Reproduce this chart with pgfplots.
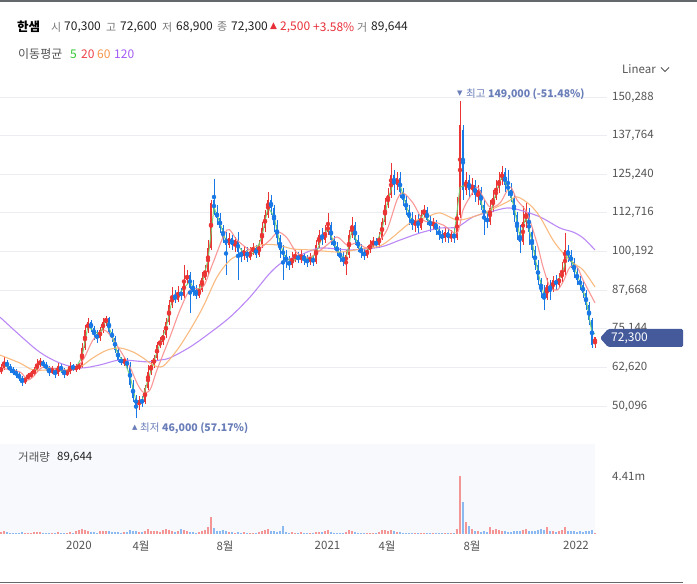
\documentclass[border=0pt]{standalone}
\usepackage{pgfplots}
\pgfplotsset{compat=1.18}
\usepackage{pgfplotstable}
\usepackage{fontspec}
\setmainfont{Noto Sans CJK KR}
\newfontfamily\sym{DejaVu Sans}
\definecolor{gridc}{RGB}{236,237,240}
\definecolor{ticktext}{RGB}{85,85,85}
\definecolor{upc}{RGB}{235,52,52}
\definecolor{dnc}{RGB}{24,120,230}
\definecolor{vup}{RGB}{245,150,150}
\definecolor{vdn}{RGB}{140,185,240}
\definecolor{ma5c}{RGB}{110,210,110}
\definecolor{ma20c}{RGB}{250,140,140}
\definecolor{ma60c}{RGB}{250,180,115}
\definecolor{ma120c}{RGB}{180,125,245}
\definecolor{bandc}{RGB}{248,249,253}
\definecolor{annc}{RGB}{105,125,185}
\definecolor{tagc}{RGB}{68,90,155}
\definecolor{linec}{RGB}{100,103,108}
\definecolor{lblgray}{RGB}{120,120,120}
\definecolor{numdark}{RGB}{34,34,34}
\definecolor{hdrred}{RGB}{232,48,58}
\definecolor{leg5}{RGB}{50,200,50}
\definecolor{leg20}{RGB}{240,66,74}
\definecolor{leg60}{RGB}{245,150,74}
\definecolor{leg120}{RGB}{164,92,245}

\pgfplotstableread{
x o h l c v
1 61.1 63.7 60.4 62.4 150
4 62.4 65.9 61.8 64.4 200
7 64.4 65.0 62.1 63.0 120
10 63.0 63.7 60.8 61.8 100
13 61.8 62.7 60.1 61.1 90
16 61.1 62.1 59.2 60.4 110
19 60.4 61.1 58.2 59.2 90
22 59.2 59.8 56.6 57.9 150
25 57.9 59.5 57.2 59.2 100
28 59.2 60.8 58.5 59.8 80
31 59.8 61.4 59.2 60.4 90
34 60.4 62.7 59.8 61.8 120
37 61.8 65.3 61.1 63.7 180
40 63.7 65.7 62.7 64.4 150
43 64.4 65.0 62.4 63.4 100
46 63.4 64.4 61.4 62.4 80
49 62.4 63.0 59.8 61.1 90
52 61.1 63.0 60.4 61.8 70
55 61.8 62.4 59.2 60.4 80
58 60.4 64.0 59.8 63.0 120
61 63.0 63.7 60.8 61.8 80
64 61.8 62.4 59.2 60.4 90
67 60.4 62.1 59.8 61.1 70
70 61.1 64.4 60.4 63.0 130
73 63.0 63.7 61.4 62.4 90
76 62.1 63.7 61.1 62.7 200
79 62.7 64.0 61.8 63.0 300
82 63.0 70.5 62.4 68.9 380
85 68.9 76.3 68.2 74.7 300
88 74.7 78.6 73.8 77.3 200
91 77.3 78.0 74.1 75.4 150
94 75.4 76.0 71.5 73.1 120
97 73.1 74.7 70.5 72.1 100
100 72.1 75.7 71.2 74.7 230
103 74.7 78.6 73.8 77.3 200
106 77.3 79.3 76.0 78.6 250
109 78.6 78.9 73.1 74.1 230
112 74.1 75.1 70.8 72.1 150
115 72.1 72.8 67.3 68.2 130
118 68.2 68.9 64.4 65.0 120
121 65.0 66.0 63.4 64.4 100
124 64.4 66.0 63.0 65.0 120
127 65.0 65.7 62.1 63.0 150
130 63.0 64.4 55.9 56.9 300
133 56.9 58.5 51.4 52.7 250
136 52.7 53.6 46.2 50.4 200
139 50.4 53.3 48.8 52.0 150
142 52.0 53.3 49.7 51.4 120
145 51.4 56.9 50.7 55.9 200
148 55.9 63.4 55.3 61.1 380
151 61.1 65.0 60.1 63.4 250
154 63.4 66.6 62.4 65.7 200
157 65.7 70.8 65.0 69.9 250
160 69.9 72.4 68.9 70.8 180
163 70.8 74.7 69.9 73.1 300
166 73.1 78.6 72.1 77.3 380
169 77.3 84.5 76.3 82.8 300
172 82.8 88.7 81.9 85.8 250
175 85.8 87.7 83.5 84.5 150
178 84.5 89.0 83.8 87.1 200
181 87.1 88.4 84.5 85.8 400
184 85.8 95.8 85.1 91.0 300
187 91.0 94.2 89.6 92.6 200
190 92.6 93.5 80.2 88.4 180
193 88.4 91.0 85.8 87.1 120
196 87.1 89.3 84.8 85.8 100
199 85.8 89.6 85.1 87.7 120
202 87.7 93.5 87.1 91.6 250
205 91.6 95.8 91.0 93.5 300
208 93.5 103.9 92.6 101.3 500
211 101.3 116.9 100.7 115.9 1300
214 116.9 123.7 112.0 113.0 450
217 113.0 115.3 108.8 111.0 250
220 111.0 112.7 106.2 107.8 200
223 107.8 108.8 102.9 104.6 300
226 104.6 106.5 92.6 102.3 200
229 102.3 106.2 101.3 104.6 150
232 104.6 105.5 100.7 102.3 120
235 102.3 104.9 100.0 103.9 100
238 103.9 106.5 91.0 100.0 150
241 100.0 101.3 96.8 98.7 100
244 98.7 102.0 97.4 100.7 120
247 100.7 101.6 96.8 98.1 90
250 98.1 101.6 97.4 100.0 80
253 100.0 102.9 99.0 101.3 100
256 101.3 102.3 98.1 99.0 90
259 99.0 103.9 98.4 102.3 150
262 102.3 109.8 101.3 107.8 250
265 107.8 113.6 106.5 112.0 300
268 112.0 119.5 111.0 116.9 380
271 116.9 118.5 112.0 114.3 250
274 114.3 115.3 106.5 108.8 200
277 108.8 110.4 102.3 104.6 150
280 104.6 105.5 98.1 100.7 200
283 100.7 102.3 91.0 99.0 600
286 99.0 100.7 94.8 96.8 150
289 96.8 98.7 94.2 95.8 100
292 95.8 100.0 94.8 98.1 120
295 98.1 100.7 96.8 98.7 100
298 98.7 100.0 96.5 97.4 80
301 97.4 100.7 96.5 99.0 130
304 99.0 99.7 95.8 97.4 90
307 97.4 99.0 95.2 96.8 80
310 96.8 99.7 95.8 98.1 90
313 98.1 99.0 95.5 96.8 80
316 96.8 103.9 96.1 102.3 150
319 102.3 107.2 101.3 105.5 180
322 105.5 107.8 102.3 103.9 120
325 103.9 108.8 102.9 106.5 200
328 106.5 112.7 105.5 108.8 280
331 108.8 109.8 102.3 103.9 150
334 103.9 105.2 100.7 102.0 100
337 102.0 103.3 98.7 100.0 90
340 100.0 101.3 96.8 98.1 80
343 98.1 100.0 95.5 96.8 90
346 96.8 100.7 92.6 99.0 150
349 99.0 107.2 98.1 105.5 300
352 105.5 111.4 104.6 108.8 250
355 108.8 109.8 102.3 103.9 150
358 103.9 105.5 100.0 101.3 100
361 101.3 102.6 98.1 100.0 80
364 100.0 101.3 97.4 98.7 70
367 98.7 102.0 98.1 100.7 90
370 100.7 103.9 99.7 102.3 100
373 102.3 104.9 101.3 103.3 80
376 103.3 104.6 101.3 102.3 70
379 102.3 106.5 101.3 104.6 150
382 104.6 111.0 103.9 109.8 300
385 109.8 117.5 108.8 115.3 300
388 115.3 120.8 114.3 118.5 250
391 118.5 128.9 117.5 125.0 300
394 125.0 126.6 118.5 121.7 200
397 121.7 126.0 120.1 124.0 150
400 124.0 126.0 117.5 119.5 120
403 119.5 120.8 114.9 116.9 100
406 116.9 118.2 112.0 113.6 90
409 113.6 115.3 108.8 111.0 80
412 111.0 113.0 107.2 108.8 90
415 108.8 112.0 106.5 110.4 70
418 110.4 112.4 106.2 107.8 80
421 107.8 113.6 107.2 112.0 90
424 112.0 115.3 111.0 113.6 80
427 113.6 114.6 108.8 110.4 70
430 110.4 112.0 106.5 108.5 60
433 108.5 111.0 107.2 109.8 60
436 109.8 110.4 105.5 107.2 70
439 107.2 108.5 103.9 105.5 60
442 105.5 107.2 102.9 104.6 60
445 104.6 107.8 103.3 106.5 70
448 106.5 107.8 102.9 104.6 60
451 104.6 107.2 103.3 105.5 70
454 105.5 107.8 102.9 104.6 80
457 104.6 117.9 103.9 112.0 400
460 112.0 149.0 111.0 141.2 4410
463 139.6 141.2 116.9 120.1 2400
466 120.1 126.0 118.5 123.4 900
469 123.4 125.0 117.5 120.1 600
472 120.1 124.0 118.5 121.7 400
475 121.7 123.4 116.2 118.5 250
478 118.5 121.7 115.3 120.1 200
481 120.1 121.1 113.6 115.3 150
484 115.3 116.9 105.5 111.0 200
487 111.0 113.0 107.8 109.8 150
490 109.8 116.9 108.8 114.3 550
493 114.3 120.1 113.0 117.5 300
496 117.5 123.4 116.9 120.8 400
499 120.8 126.0 119.2 123.4 300
502 123.4 127.9 121.7 126.0 250
505 126.0 127.3 119.5 121.7 200
508 121.7 126.6 118.2 120.1 180
511 120.1 122.4 116.2 117.5 150
514 117.5 118.5 109.8 112.0 200
517 112.0 113.0 103.9 106.5 250
520 106.5 108.8 99.7 103.3 250
523 103.3 114.9 102.3 109.8 300
526 109.8 115.9 107.8 113.0 380
529 113.0 114.3 102.3 106.5 250
532 106.5 107.8 98.1 100.7 200
535 100.7 102.0 94.2 95.8 250
538 95.8 97.4 89.3 91.0 300
541 91.0 91.6 85.1 87.1 350
544 87.1 89.3 81.2 85.1 300
547 85.1 91.6 84.5 89.3 550
550 89.3 91.0 84.5 87.7 200
553 87.7 92.2 87.1 91.0 250
556 91.0 92.6 87.7 89.3 150
559 89.3 93.2 88.4 91.6 200
562 91.6 96.8 90.3 93.5 300
565 93.5 106.2 92.6 100.7 550
568 100.7 102.3 96.8 99.0 250
571 99.0 100.7 94.8 96.8 200
574 96.8 98.1 91.6 93.5 200
577 93.5 94.8 89.3 91.0 150
580 91.0 92.2 87.7 89.3 200
583 89.3 90.6 85.1 86.7 150
586 86.7 87.7 81.2 82.8 200
589 82.8 83.8 76.3 78.0 250
592 78.0 78.6 68.9 69.8 300
595 70.3 72.6 68.9 72.3 90
}\candles

\begin{document}
\begin{tikzpicture}
\useasboundingbox (0pt,0pt) rectangle (697pt,584pt);
\fill[white] (0pt,0pt) rectangle (697pt,584pt);
% frame lines
\draw[linec, line width=1.6pt] (0pt,583.2pt) -- (697pt,583.2pt);
\draw[linec, line width=1.5pt] (0pt,1.5pt) -- (683pt,1.5pt);
% volume band
\fill[bandc] (0pt,50pt) rectangle (595pt,140pt);

% ---------- price axis ----------
\begin{axis}[
  at={(0pt,144pt)}, anchor=south west, scale only axis,
  width=607pt, height=355pt,
  xmin=0, xmax=607, ymin=39.06, ymax=154.18,
  axis line style={draw=none}, tick style={draw=none},
  xtick=\empty,
  ytick={50.096,62.62,75.144,87.668,100.192,112.716,125.24,137.764,150.288},
  yticklabels={{50,096},{62,620},{75,144},{87,668},{100,192},{112,716},{125,240},{137,764},{150,288}},
  yticklabel pos=right,
  yticklabel style={anchor=west, inner sep=0pt, xshift=5pt, font=\fontsize{11.5}{13}\selectfont, text=ticktext},
  ymajorgrids, grid style={gridc, line width=0.8pt},
  clip=true,
]
% wicks up
\addplot[only marks, mark=none, color=upc,
  y filter/.expression={\thisrow{c}>=\thisrow{o} ? y : nan},
  error bars/.cd, y dir=both, y explicit, error mark=none,
  error bar style={line width=0.8pt}]
  table[x=x, y expr={(\thisrow{h}+\thisrow{l})/2}, y error expr={(\thisrow{h}-\thisrow{l})/2}] {\candles};
% bodies up
\addplot[only marks, mark=none, color=upc,
  y filter/.expression={\thisrow{c}>=\thisrow{o} ? y : nan},
  error bars/.cd, y dir=both, y explicit, error mark=none,
  error bar style={line width=1.8pt}]
  table[x=x, y expr={(\thisrow{o}+\thisrow{c})/2}, y error expr={max(abs(\thisrow{o}-\thisrow{c})/2,0.25)}] {\candles};
% wicks down
\addplot[only marks, mark=none, color=dnc,
  y filter/.expression={\thisrow{c}<\thisrow{o} ? y : nan},
  error bars/.cd, y dir=both, y explicit, error mark=none,
  error bar style={line width=0.8pt}]
  table[x=x, y expr={(\thisrow{h}+\thisrow{l})/2}, y error expr={(\thisrow{h}-\thisrow{l})/2}] {\candles};
% bodies down
\addplot[only marks, mark=none, color=dnc,
  y filter/.expression={\thisrow{c}<\thisrow{o} ? y : nan},
  error bars/.cd, y dir=both, y explicit, error mark=none,
  error bar style={line width=1.8pt}]
  table[x=x, y expr={(\thisrow{o}+\thisrow{c})/2}, y error expr={max(abs(\thisrow{o}-\thisrow{c})/2,0.25)}] {\candles};

% MA120
\addplot[ma120c, line width=1.1pt, smooth, opacity=0.9] coordinates {
(0,78.9)(37,68.2)(60,64.0)(80,62.4)(100,63.4)(120,65.0)(147,64.4)(160,65.0)(170,65.7)(190,69.2)(210,73.8)(230,78.9)(250,85.4)(270,93.2)(283,96.8)(300,99.0)(320,101.3)(350,100.7)(380,101.6)(400,103.9)(420,106.2)(440,107.8)(457,108.1)(473,111.4)(490,113.0)(507,114.3)(520,113.6)(540,111.4)(560,107.8)(573,106.5)(583,104.6)(595,100.7)};
% MA60
\addplot[ma60c, line width=1.1pt, smooth, opacity=0.9] coordinates {
(0,66.6)(20,64.0)(33,61.8)(50,61.8)(70,61.8)(80,62.7)(93,65.7)(107,68.2)(120,68.9)(133,67.6)(143,65.7)(153,63.4)(163,63.0)(177,68.2)(190,74.7)(203,82.2)(217,91.9)(230,97.4)(243,99.7)(260,102.3)(277,102.3)(293,101.0)(310,100.7)(340,100.0)(360,101.0)(380,102.0)(393,104.9)(410,109.4)(427,111.4)(440,112.7)(457,110.4)(473,111.4)(490,113.6)(507,116.2)(517,117.9)(530,115.3)(540,111.4)(553,103.9)(563,99.7)(573,96.5)(583,94.2)(595,88.7)};
% MA20
\addplot[ma20c, line width=1.1pt, smooth, opacity=0.9] coordinates {
(0,62.4)(20,61.1)(27,58.5)(33,59.5)(43,62.7)(60,61.8)(73,61.8)(83,65.0)(93,71.5)(103,74.7)(110,73.1)(120,68.2)(130,62.7)(137,57.5)(143,54.6)(150,55.3)(157,61.8)(170,72.5)(180,81.2)(190,87.7)(203,88.7)(213,96.5)(227,107.2)(237,103.9)(250,100.7)(260,101.3)(270,103.9)(278,106.5)(287,104.6)(297,99.7)(310,98.4)(327,102.3)(337,104.9)(347,102.3)(357,102.9)(367,101.3)(377,102.9)(387,107.2)(397,116.9)(403,119.2)(413,115.9)(423,110.4)(433,109.8)(443,108.8)(457,106.2)(463,113.6)(470,117.9)(477,121.1)(483,117.9)(490,114.6)(500,115.9)(510,121.1)(517,116.9)(527,112.7)(537,102.9)(543,95.2)(550,88.7)(557,87.7)(563,90.3)(570,95.2)(577,95.2)(583,91.0)(595,83.5)};
% MA5
\addplot[ma5c, line width=1.0pt, opacity=0.9] coordinates {
(4,63.4)(10,62.4)(16,60.8)(22,58.6)(28,59.5)(34,61.1)(40,64.0)(46,62.9)(52,61.5)(58,61.7)(64,61.1)(70,62.0)(76,62.5)(82,66.0)(88,76.0)(94,74.2)(100,73.4)(106,78.0)(112,73.1)(118,66.6)(124,64.7)(130,60.0)(136,51.6)(142,51.7)(148,58.5)(154,64.6)(160,70.4)(166,75.2)(172,84.3)(178,85.8)(184,88.4)(190,90.5)(196,86.5)(202,89.7)(208,97.4)(214,114.5)(220,109.4)(226,103.5)(232,103.5)(238,102.0)(244,99.7)(250,99.1)(256,100.2)(262,105.1)(268,114.5)(274,111.6)(280,102.7)(286,97.9)(292,97.0)(298,98.1)(304,98.2)(310,97.5)(316,99.6)(322,104.7)(328,107.7)(334,103.0)(340,99.1)(346,97.9)(352,107.2)(358,102.6)(364,99.4)(370,101.5)(376,102.8)(382,107.2)(388,116.9)(394,123.4)(400,121.8)(406,115.3)(412,109.9)(418,109.1)(424,112.8)(430,109.5)(436,108.5)(442,105.1)(448,105.6)(454,105.1)(460,121.0)(466,121.8)(472,120.9)(478,119.3)(484,113.2)(490,112.1)(496,119.2)(502,124.7)(508,120.9)(514,114.8)(520,104.9)(526,111.4)(532,103.6)(538,93.4)(544,86.1)(550,88.5)(556,90.2)(562,92.6)(568,99.9)(574,95.2)(580,90.2)(586,84.8)(592,73.9)(595,73.5)};
\end{axis}

% ---------- volume axis ----------
\begin{axis}[
  at={(0pt,50pt)}, anchor=south west, scale only axis,
  width=607pt, height=89pt,
  xmin=0, xmax=607, ymin=0, ymax=6767,
  axis line style={draw=none}, tick style={draw=none},
  xtick={79,141,225,327.5,387,472,576},
  xticklabels={2020,4월,8월,2021,4월,8월,2022},
  xticklabel style={anchor=north, inner sep=0pt, yshift=-7pt, font=\fontsize{11.5}{13}\selectfont, text=ticktext},
  ytick={4410}, yticklabels={4.41m},
  yticklabel pos=right,
  yticklabel style={anchor=west, inner sep=0pt, xshift=5pt, font=\fontsize{11.5}{13}\selectfont, text=ticktext},
  clip=false,
]
\addplot[ycomb, mark=none, color=vup, line width=1.2pt,
  y filter/.expression={\thisrow{c}>=\thisrow{o} ? y : nan}]
  table[x=x, y=v] {\candles};
\addplot[ycomb, mark=none, color=vdn, line width=1.2pt,
  y filter/.expression={\thisrow{c}<\thisrow{o} ? y : nan}]
  table[x=x, y=v] {\candles};
\end{axis}

% ---------- texts ----------
\begin{scope}[every node/.style={anchor=west, inner sep=0pt, font=\fontsize{12}{14}\selectfont}]
\node[font=\fontsize{12.5}{14}\selectfont\bfseries, text=black] at (17pt,557pt) {한샘};
\node[text=lblgray, font=\fontsize{11}{13}\selectfont] at (51pt,557pt) {시};
\node[text=numdark] at (64pt,557pt) {70,300};
\node[text=lblgray, font=\fontsize{11}{13}\selectfont] at (106pt,557pt) {고};
\node[text=numdark] at (120pt,557pt) {72,600};
\node[text=lblgray, font=\fontsize{11}{13}\selectfont] at (162pt,557pt) {저};
\node[text=numdark] at (176pt,557pt) {68,900};
\node[text=lblgray, font=\fontsize{11}{13}\selectfont] at (217pt,557pt) {종};
\node[text=numdark] at (231pt,557pt) {72,300};
\node[text=hdrred, font=\sym\fontsize{9}{10}\selectfont] at (270pt,557.5pt) {▲};
\node[text=hdrred] at (280pt,557pt) {2,500};
\node[text=hdrred] at (313pt,557pt) {+3.58\%};
\node[text=lblgray, font=\fontsize{11}{13}\selectfont] at (357pt,557pt) {거};
\node[text=numdark] at (371pt,557pt) {89,644};
\node[text=ticktext] at (18pt,530pt) {이동평균};
\node[text=leg5] at (70pt,530pt) {5};
\node[text=leg20] at (81pt,530pt) {20};
\node[text=leg60] at (97pt,530pt) {60};
\node[text=leg120] at (114pt,530pt) {120};
\node[text=ticktext, font=\fontsize{11.5}{13}\selectfont] at (622pt,515pt) {Linear};
\node[text=ticktext, font=\fontsize{11.5}{13}\selectfont] at (18pt,127pt) {거래량};
\node[text=numdark, font=\fontsize{11.5}{13}\selectfont] at (57pt,127pt) {89,644};
% annotations
\node[text=annc, font=\sym\fontsize{7}{8}\selectfont] at (457pt,490.5pt) {▼};
\node[text=annc, font=\fontsize{10.5}{12}\selectfont] at (466pt,490pt) {최고};
\node[text=annc, font=\fontsize{10.5}{12}\selectfont\bfseries] at (488pt,490pt) {149,000 (-51.48\%)};
\node[text=annc, font=\sym\fontsize{7}{8}\selectfont] at (132pt,156.5pt) {▲};
\node[text=annc, font=\fontsize{10.5}{12}\selectfont] at (140pt,156pt) {최저};
\node[text=annc, font=\fontsize{10.5}{12}\selectfont\bfseries] at (162pt,156pt) {46,000 (57.17\%)};
\end{scope}
\draw[ticktext, line width=0.8pt] (661pt,516.5pt) -- (665pt,512.5pt) -- (669pt,516.5pt);
% price tag
\fill[tagc, rounded corners=1.5pt] (600pt,246pt) -- (608pt,255pt) -- (683pt,255pt) -- (683pt,237pt) -- (608pt,237pt) -- cycle;
\node[anchor=west, inner sep=0pt, text=white, font=\fontsize{12}{14}\selectfont] at (611pt,246pt) {72,300};
\end{tikzpicture}
\end{document}
